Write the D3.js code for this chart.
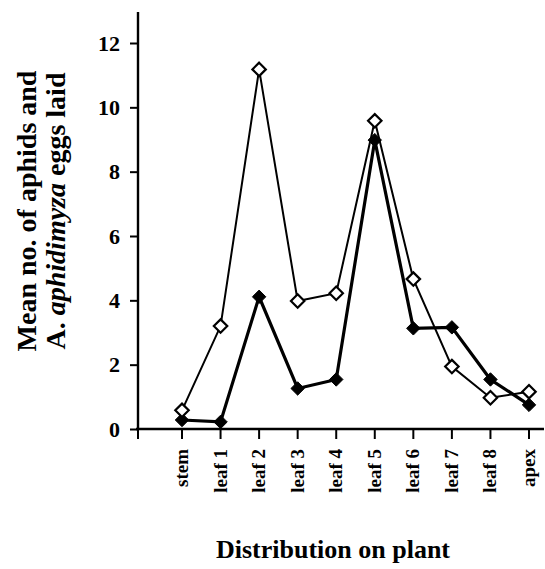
<!DOCTYPE html>
<html>
<head>
<meta charset="utf-8">
<script src="https://cdn.jsdelivr.net/npm/d3@7"></script>
<style>
  body { margin: 0; background: #fff; }
  svg text { font-family: "Liberation Serif", "Times New Roman", serif; font-weight: bold; fill: #000; }
</style>
</head>
<body>
<svg class="svg_chart" width="545" height="569"></svg>
<script>
// plant positions along the x axis
var positions = ["stem", "leaf 1", "leaf 2", "leaf 3", "leaf 4", "leaf 5", "leaf 6", "leaf 7", "leaf 8", "apex"];
// open diamonds
var openSeries = [0.58, 3.2, 11.18, 3.98, 4.22, 9.58, 4.66, 1.94, 0.97, 1.16];
// filled diamonds
var filledSeries = [0.28, 0.22, 4.11, 1.26, 1.54, 8.98, 3.13, 3.16, 1.54, 0.75];
var yTicks = [0, 2, 4, 6, 8, 10, 12];

function drawChart() {
    var chart = d3.select(".svg_chart");

    // index scale: 0 = stem, 9 = apex
    var x = d3.scaleLinear().domain([0, positions.length - 1]).range([182, 529]);
    var y = d3.scaleLinear().domain([0, 12]).range([429, 43]);
    var x0 = 138;

    // y axis
    var yAxis = chart.append("g")
        .attr("transform", "translate(" + x0 + ",0)")
        .call(d3.axisLeft(y).tickValues(yTicks).tickSize(8).tickPadding(10).tickSizeOuter(0));
    yAxis.select(".domain").remove();
    yAxis.append("line")
        .attr("x1", 0).attr("x2", 0)
        .attr("y1", 12).attr("y2", 429)
        .attr("stroke", "#000").attr("stroke-width", 2.4);
    yAxis.selectAll(".tick line").attr("stroke-width", 2);
    yAxis.selectAll(".tick text").style("font-size", "22px");

    // x axis
    var xg = chart.append("g").attr("transform", "translate(0," + y(0) + ")");
    xg.append("line")
        .attr("x1", x0 - 2).attr("x2", 544)
        .attr("y1", 0).attr("y2", 0)
        .attr("stroke", "#000").attr("stroke-width", 2.4);
    var tickIdx = [-1.17].concat(d3.range(positions.length));
    xg.selectAll(".xtick").data(tickIdx).enter().append("line")
        .attr("class", "xtick")
        .attr("x1", function(d) { return d < 0 ? x0 : x(d); })
        .attr("x2", function(d) { return d < 0 ? x0 : x(d); })
        .attr("y1", 0).attr("y2", 10)
        .attr("stroke", "#000").attr("stroke-width", 2);
    xg.selectAll(".xlabel").data(positions).enter().append("text")
        .attr("class", "xlabel")
        .attr("transform", function(d, i) { return "translate(" + (x(i) + 6) + ",20) rotate(-90)"; })
        .attr("text-anchor", "end")
        .style("font-size", "19px")
        .text(function(d) { return d; });

    // lines
    var line = d3.line()
        .x(function(d, i) { return x(i); })
        .y(function(d) { return y(d); });

    chart.append("path").datum(filledSeries)
        .attr("d", line).attr("fill", "none")
        .attr("stroke", "#000").attr("stroke-width", 3.2);
    chart.append("path").datum(openSeries)
        .attr("d", line).attr("fill", "none")
        .attr("stroke", "#000").attr("stroke-width", 2);

    var diamond = d3.symbol().type(d3.symbolDiamond2).size(115);

    chart.selectAll(".filled").data(filledSeries).enter().append("path")
        .attr("class", "filled")
        .attr("d", diamond)
        .attr("transform", function(d, i) { return "translate(" + x(i) + "," + y(d) + ")"; })
        .attr("fill", "#000").attr("stroke", "#000").attr("stroke-width", 1);

    chart.selectAll(".open").data(openSeries).enter().append("path")
        .attr("class", "open")
        .attr("d", diamond)
        .attr("transform", function(d, i) { return "translate(" + x(i) + "," + y(d) + ")"; })
        .attr("fill", "#fff").attr("stroke", "#000").attr("stroke-width", 2.2);

    // y title, two lines
    var yt = chart.append("text")
        .attr("transform", "translate(36,211) rotate(-90)")
        .attr("text-anchor", "middle")
        .style("font-size", "28px");
    yt.append("tspan").attr("x", 0).attr("dy", 0).text("Mean no. of aphids and");
    var l2 = yt.append("tspan").attr("x", 0).attr("dy", 29);
    l2.append("tspan").text("A. ");
    l2.append("tspan").style("font-style", "italic").text("aphidimyza");
    l2.append("tspan").text(" eggs laid");

    // x title
    chart.append("text")
        .attr("x", 333).attr("y", 558)
        .attr("text-anchor", "middle")
        .style("font-size", "26px")
        .text("Distribution on plant");
}

drawChart();
</script>
</body>
</html>
